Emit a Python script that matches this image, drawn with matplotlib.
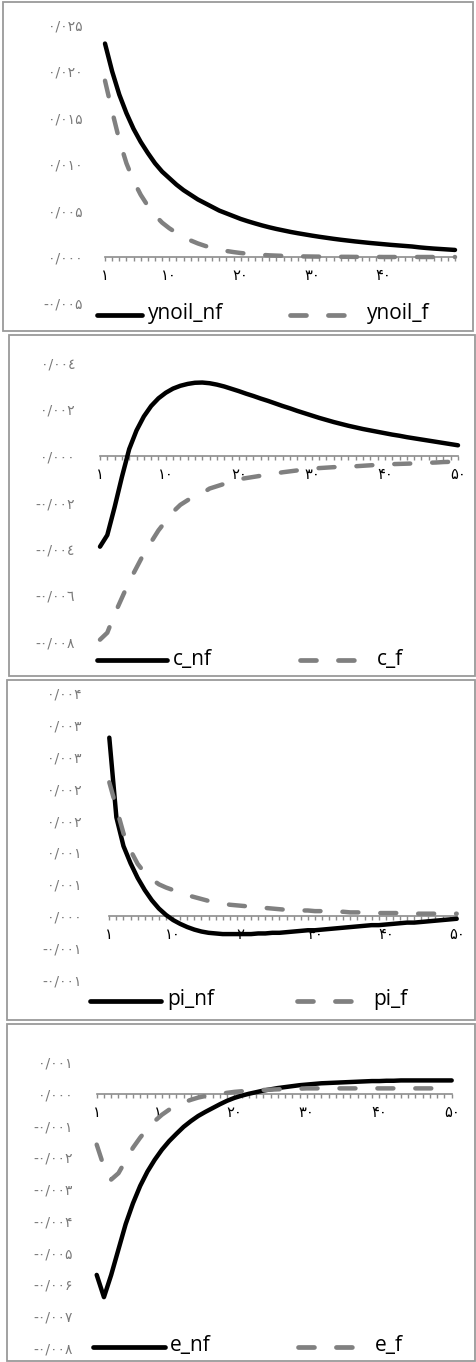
import matplotlib
matplotlib.use('Agg')
import matplotlib.pyplot as plt
from matplotlib.lines import Line2D
from matplotlib.patches import Rectangle

plt.rcParams['lines.scale_dashes'] = False

# ---------------- data ----------------
periods = list(range(1, 51))

ynoil_nf = [0.0230, 0.0200, 0.0175, 0.0155, 0.0138, 0.0124, 0.0112, 0.0101, 0.0092, 0.0085,
            0.0078, 0.0072, 0.0067, 0.0062, 0.0058, 0.0054, 0.0050, 0.0047, 0.0044, 0.0041,
            0.00385, 0.00362, 0.0034, 0.0032, 0.00302, 0.00286, 0.0027, 0.00256, 0.00243, 0.0023,
            0.00218, 0.00207, 0.00196, 0.00186, 0.00177, 0.00168, 0.0016, 0.00152, 0.00145, 0.00138,
            0.00131, 0.00125, 0.00119, 0.00113, 0.00104, 0.00097, 0.00091, 0.00086, 0.00081, 0.00076]
ynoil_f = [0.0190, 0.0157, 0.0126, 0.0101, 0.0082, 0.0067, 0.0055, 0.0045, 0.0037, 0.0031,
           0.0026, 0.00215, 0.00178, 0.00146, 0.0012, 0.00098, 0.0008, 0.00065, 0.00053, 0.00043,
           0.00035, 0.00028, 0.00023, 0.00018, 0.00015, 0.00012, 0.0001, 0.00008, 0.00006, 0.00005,
           0.00004, 0.00003, 0.00003, 0.00002, 0.00002, 0.00001, 0.00001, 0.00001, 0.00001, 0.0,
           0.0, 0.0, 0.0, 0.0, 0.0, 0.0, 0.0, 0.0, 0.0, 0.0]

c_nf = [-0.0039, -0.0034, -0.0022, -0.0009, 0.0003, 0.0011, 0.0017, 0.00215, 0.00248, 0.00272,
        0.0029, 0.00302, 0.0031, 0.00315, 0.00316, 0.00313, 0.00307, 0.00299, 0.00289, 0.00279,
        0.00268, 0.00258, 0.00247, 0.00237, 0.00226, 0.00215, 0.00205, 0.00194, 0.00184, 0.00174,
        0.00164, 0.00155, 0.00146, 0.00138, 0.0013, 0.00123, 0.00116, 0.0011, 0.00104, 0.00098,
        0.00092, 0.00087, 0.00081, 0.00076, 0.00071, 0.00066, 0.00061, 0.00056, 0.00051, 0.00046]
c_f = [-0.0079, -0.0076, -0.0068, -0.0061, -0.0054, -0.0048, -0.0042, -0.0037, -0.0032, -0.0028,
       -0.0024, -0.0021, -0.0019, -0.0017, -0.0016, -0.0014, -0.0013, -0.0012, -0.0011, -0.0010,
       -0.00095, -0.0009, -0.00085, -0.0008, -0.00075, -0.0007, -0.00066, -0.00062, -0.00058, -0.00055,
       -0.00052, -0.0005, -0.00048, -0.00046, -0.00045, -0.00044, -0.00042, -0.0004, -0.00038, -0.00036,
       -0.00035, -0.00034, -0.00033, -0.00032, -0.0003, -0.00029, -0.00028, -0.00026, -0.00025, -0.00024]

pi_nf = [0.0028, 0.00155, 0.0011, 0.00083, 0.0006, 0.00041, 0.00025, 0.00012, 0.00002, -0.00006,
         -0.00012, -0.00017, -0.00021, -0.00024, -0.00026, -0.00027, -0.00028, -0.00028, -0.00028, -0.00028,
         -0.00028, -0.00027, -0.00027, -0.00026, -0.00026, -0.00025, -0.00024, -0.00023, -0.00022, -0.00022,
         -0.00021, -0.0002, -0.00019, -0.00018, -0.00017, -0.00016, -0.00015, -0.00014, -0.00014, -0.00013,
         -0.00012, -0.00011, -0.0001, -0.0001, -0.00009, -0.00008, -0.00007, -0.00006, -0.00005, -0.00004]
pi_f = [0.0021, 0.0017, 0.0013, 0.00103, 0.00082, 0.00068, 0.00058, 0.0005, 0.00045, 0.00041,
        0.00037, 0.00033, 0.0003, 0.00027, 0.00024, 0.00022, 0.0002, 0.00018, 0.00017, 0.00016,
        0.00015, 0.00014, 0.00013, 0.00012, 0.00011, 0.0001, 0.0001, 0.00009, 0.00009, 0.00008,
        0.00008, 0.00007, 0.00007, 0.00007, 0.00006, 0.00006, 0.00006, 0.00006, 0.00005, 0.00005,
        0.00005, 0.00005, 0.00005, 0.00004, 0.00004, 0.00004, 0.00004, 0.00004, 0.00004, 0.00004]

e_nf = [-0.0057, -0.0064, -0.0057, -0.0049, -0.0041, -0.00345, -0.0029, -0.00245, -0.00208, -0.00176,
        -0.00149, -0.00126, -0.00104, -0.00086, -0.0007, -0.00057, -0.00045, -0.00033, -0.00022, -0.00013,
        -0.00006, 0.0, 0.00005, 0.0001, 0.00014, 0.00018, 0.00021, 0.00024, 0.00027, 0.00029,
        0.00031, 0.00033, 0.00034, 0.00035, 0.00036, 0.00037, 0.00038, 0.00039, 0.0004, 0.0004,
        0.00041, 0.00041, 0.00042, 0.00042, 0.00042, 0.00042, 0.00042, 0.00042, 0.00042, 0.00042]
e_f = [-0.0016, -0.0023, -0.0027, -0.0025, -0.0021, -0.0017, -0.00138, -0.0011, -0.00086, -0.00066,
       -0.0005, -0.00037, -0.00027, -0.00019, -0.00012, -0.00007, -0.00003, 0.0, 0.00003, 0.00006,
       0.00008, 0.0001, 0.00011, 0.00012, 0.00013, 0.00014, 0.00015, 0.00016, 0.00016, 0.00017,
       0.00017, 0.00017, 0.00017, 0.00017, 0.00017, 0.00017, 0.00017, 0.00017, 0.00017, 0.00017,
       0.00017, 0.00017, 0.00017, 0.00017, 0.00017, 0.00017, 0.00017, 0.00017, 0.00017, 0.00017]

series_names = [('ynoil_nf', 'ynoil_f'), ('c_nf', 'c_f'), ('pi_nf', 'pi_f'), ('e_nf', 'e_f')]
series_values = [(ynoil_nf, ynoil_f), (c_nf, c_f), (pi_nf, pi_f), (e_nf, e_f)]

y_ticks = [
    [-0.005, 0.0, 0.005, 0.010, 0.015, 0.020, 0.025],
    [-0.008, -0.006, -0.004, -0.002, 0.0, 0.002, 0.004],
    [-0.001, -0.0005, 0.0, 0.0005, 0.001, 0.0015, 0.002, 0.0025, 0.003, 0.0035],
    [-0.008, -0.007, -0.006, -0.005, -0.004, -0.003, -0.002, -0.001, 0.0, 0.001],
]
y_tick_labels = [
    ['-۰/۰۰۵', '۰/۰۰۰', '۰/۰۰۵', '۰/۰۱۰', '۰/۰۱۵', '۰/۰۲۰', '۰/۰۲۵'],
    ['-۰/۰۰۸', '-۰/۰۰٦', '-۰/۰۰٤', '-۰/۰۰۲', '۰/۰۰۰', '۰/۰۰۲', '۰/۰۰٤'],
    ['-۰/۰۰۱', '-۰/۰۰۱', '۰/۰۰۰', '۰/۰۰۱', '۰/۰۰۱', '۰/۰۰۲', '۰/۰۰۲', '۰/۰۰۳', '۰/۰۰۳', '۰/۰۰۴'],
    ['-۰/۰۰۸', '-۰/۰۰۷', '-۰/۰۰۶', '-۰/۰۰۵', '-۰/۰۰۴', '-۰/۰۰۳', '-۰/۰۰۲', '-۰/۰۰۱', '۰/۰۰۰', '۰/۰۰۱'],
]
x_label_pos = [[1, 10, 20, 30, 40], [1, 10, 20, 30, 40, 50], [1, 10, 20, 30, 40, 50], [1, 10, 20, 30, 40, 50]]
x_label_txt = [['۱', '۱۰', '۲۰', '۳۰', '۴۰'], ['۱', '۱۰', '۲۰', '۳۰', '۴۰', '۵۰'],
               ['۱', '۱۰', '۲۰', '۳۰', '۴۰', '۵۰'], ['۱', '۱۰', '۲۰', '۳۰', '۴۰', '۵۰']]

# ---------------- layout (pixels) ----------------
W, H = 476, 1362
fig = plt.figure(figsize=(W / 100, H / 100), dpi=100)

# plot area: left, right, top (ymax), bottom (ymin); label right edge
plot_px = [(105, 455, 25, 303.4, 83),
           (100, 458, 363, 642, 75),
           (109.3, 456.7, 693, 980, 82),
           (96.7, 451.7, 1062, 1348, 73)]
frame_px = [(3, 2, 473, 331), (9, 335, 475, 676), (7, 680, 475, 1020), (7, 1024, 475, 1361)]
legend_px = [(97, 142, 148, 290, 367, 315),
             (97, 167, 173, 300, 377, 660),
             (90, 161, 167, 297, 373, 1001),
             (93, 165, 170, 298, 375, 1347)]

BLACK = '#000000'
GRAY = '#808080'
AXGRAY = '#8c8c8c'
LW = 3.2
DASH = (0, (11.5, 15.8))


def fx(px):
    return px / W


def fy(py):
    return 1 - py / H


for i in range(4):
    # frame
    x0, y0, x1, y1 = frame_px[i]
    fig.add_artist(Rectangle((fx(x0), fy(y1)), fx(x1) - fx(x0), fy(y0) - fy(y1),
                             transform=fig.transFigure, fill=False,
                             edgecolor='#9a9a9a', linewidth=1.3))

    l, r, t, b, lab_r = plot_px[i]
    ax = fig.add_axes([fx(l), fy(b), fx(r) - fx(l), fy(t) - fy(b)])
    ax.set_facecolor('none')
    yt = y_ticks[i]
    ax.set_ylim(yt[0], yt[-1])
    ax.set_xlim(1, 50)

    nf, f = series_values[i]
    ax.plot(periods, nf, color=BLACK, lw=LW, solid_capstyle='round',
            solid_joinstyle='round', clip_on=False, zorder=3)
    ax.plot(periods, f, color=GRAY, lw=LW, linestyle=DASH, dash_capstyle='round',
            clip_on=False, zorder=4)

    for s in ['top', 'right', 'left']:
        ax.spines[s].set_visible(False)
    ax.spines['bottom'].set_position(('data', 0))
    ax.spines['bottom'].set_color(AXGRAY)
    ax.spines['bottom'].set_linewidth(1.2)
    ax.spines['bottom'].set_zorder(2)

    ax.set_xticks(periods)
    lbls = ['' for _ in periods]
    for p, tx in zip(x_label_pos[i], x_label_txt[i]):
        lbls[p - 1] = tx
    ax.set_xticklabels(lbls, fontsize=10.5, family=['DejaVu Sans'], color='#000000')
    ax.tick_params(axis='x', direction='out', length=3, width=1, color=AXGRAY, pad=5)

    ax.set_yticks(yt)
    ax.set_yticklabels(y_tick_labels[i], fontsize=10, family=['DejaVu Sans'], color='#7a7a7a')
    ax.tick_params(axis='y', length=0, pad=(l - lab_r) * 0.72)

    # legend
    bx0, bx1, t1x, gx0, t2x, ly = legend_px[i]
    n1, n2 = series_names[i]
    fig.add_artist(Line2D([fx(bx0), fx(bx1)], [fy(ly), fy(ly)], transform=fig.transFigure,
                          color=BLACK, lw=3.4, solid_capstyle='round'))
    fig.add_artist(Line2D([fx(gx0), fx(gx0 + 54)], [fy(ly), fy(ly)], transform=fig.transFigure,
                          color=GRAY, lw=3.4, linestyle=DASH, dash_capstyle='round'))
    fig.text(fx(t1x), fy(ly - 1), n1, fontsize=15, family=['Open Sans'], va='center', ha='left')
    fig.text(fx(t2x), fy(ly - 1), n2, fontsize=15, family=['Open Sans'], va='center', ha='left')

fig.savefig('out.png', dpi=100)
